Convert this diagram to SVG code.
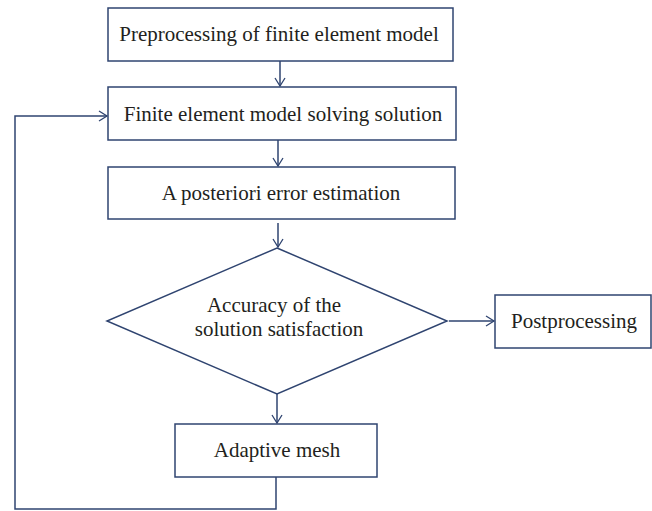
<svg xmlns="http://www.w3.org/2000/svg" width="652" height="511" viewBox="0 0 652 511">
<style>
.box{fill:#fff;stroke:#2f4470;stroke-width:1.5}
.ln{fill:none;stroke:#2f4470;stroke-width:1.5}
text{font-family:"Liberation Serif","Times New Roman",serif;font-size:21px;fill:#231f20;text-anchor:middle}
</style>
<defs>
<marker id="ah" markerWidth="12" markerHeight="12" refX="10" refY="6" orient="auto" markerUnits="userSpaceOnUse">
<polyline points="2,1 10,6 2,11" fill="none" stroke="#2f4470" stroke-width="1.3"/>
</marker>
</defs>
<rect width="652" height="511" fill="#fff"/>
<g id="connectors">
<line class="ln" x1="280" y1="61" x2="280" y2="86" marker-end="url(#ah)"/>
<line class="ln" x1="278" y1="140" x2="278" y2="166" marker-end="url(#ah)"/>
<line class="ln" x1="278" y1="223" x2="278" y2="247" marker-end="url(#ah)"/>
<line class="ln" x1="449" y1="321" x2="494" y2="321" marker-end="url(#ah)"/>
<line class="ln" x1="277" y1="394" x2="277" y2="423" marker-end="url(#ah)"/>
<polyline class="ln" points="276,477 276,509 15,509 15,116 107,116" marker-end="url(#ah)"/>
</g>
<g id="preprocessing">
<rect class="box" x="108" y="8" width="345" height="53"/>
<text x="279" y="41">Preprocessing of finite element model</text>
</g>
<g id="solving">
<rect class="box" x="108" y="87" width="348" height="53"/>
<text x="283" y="121">Finite element model solving solution</text>
</g>
<g id="estimation">
<rect class="box" x="108" y="167" width="347" height="52"/>
<text x="281" y="200">A posteriori error estimation</text>
</g>
<g id="decision">
<polygon class="box" points="277,248 447,321 277,394 107,321"/>
<text x="274" y="312">Accuracy of the</text>
<text x="279" y="336">solution satisfaction</text>
</g>
<g id="postprocessing">
<rect class="box" x="495" y="295" width="156" height="53"/>
<text x="574" y="328">Postprocessing</text>
</g>
<g id="adaptive">
<rect class="box" x="175" y="424" width="202" height="53"/>
<text x="277" y="457">Adaptive mesh</text>
</g>
</svg>
